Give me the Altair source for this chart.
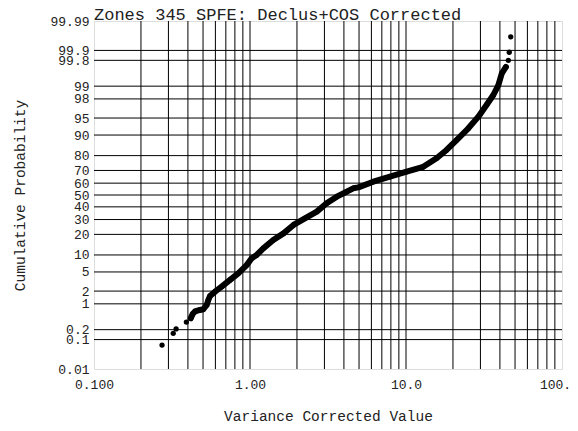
import json
from statistics import NormalDist
import altair as alt
import pandas as pd

# ---- data ----
x_vals = [0.273, 0.322, 0.336, 0.391, 0.417, 0.429, 0.444, 0.478, 0.502, 0.528,
          0.541, 0.554, 0.597, 0.658, 0.745, 0.841, 0.952, 1.025, 1.104, 1.217,
          1.41, 1.64, 1.90, 2.25, 2.68, 3.10, 3.60, 4.17, 4.59, 4.95,
          6.17, 7.89, 10.1, 12.9, 15.7, 18.2, 21.1, 25.1, 29.1, 32.9,
          36.3, 39.1, 41.1, 43.7, 45.3, 45.9, 46.9]
cum_prob = [0.067, 0.156, 0.21, 0.33, 0.42, 0.55, 0.64, 0.70, 0.73, 0.94,
            1.25, 1.54, 1.94, 2.5, 3.47, 4.7, 6.7, 8.8, 10.0, 12.7,
            16.8, 20.6, 26.1, 30.9, 36.1, 43.0, 48.6, 52.8, 55.7, 56.5,
            61.2, 65.2, 69.1, 72.7, 78.4, 83.2, 88.0, 92.3, 95.3, 97.3,
            98.37, 99.06, 99.53, 99.69, 99.80, 99.886, 99.964]

prob_ticks = [0.01, 0.1, 0.2, 1, 2, 5, 10, 20, 30, 40, 50, 60, 70, 80, 90, 95, 98, 99, 99.8, 99.9, 99.99]
prob_labels = ["0.01", "0.1", "0.2", "1", "2", "5", "10", "20", "30", "40", "50",
               "60", "70", "80", "90", "95", "98", "99", "99.8", "99.9", "99.99"]
prob_grid = [0.1, 0.2, 1, 2, 5, 10, 20, 30, 40, 50, 60, 70, 80, 90, 95, 98, 99, 99.8, 99.9]

x_ticks = [0.1, 1, 10, 100]
x_labels = ["0.100", "1.00", "10.0", "100."]
x_grid = [k * 10.0 ** d for d in (-1, 0, 1) for k in range(2, 10)] + [1, 10]

title_text = "Zones 345 SPFE: Declus+COS Corrected"
x_title = "Variance Corrected Value"
y_title = "Cumulative Probability"

# ---- probit transform ----
nd = NormalDist()
def probit(p):
    return round(nd.inv_cdf(p / 100.0), 6)

z_ticks = [probit(p) for p in prob_ticks]
zmin, zmax = z_ticks[0], z_ticks[-1]

pts = pd.DataFrame({"x": x_vals, "p": cum_prob})
pts["z"] = [probit(p) for p in cum_prob]
dense = pts[(pts["p"] >= 0.4) & (pts["p"] <= 99.7)]

FONT = "Liberation Mono"
xscale = alt.Scale(type="log", domain=[0.1, 100], nice=False)
yscale = alt.Scale(domain=[zmin, zmax], nice=False, zero=False)

x_label_expr = f"{json.dumps(x_labels)}[round(log(datum.value)/log(10))+1]"
y_label_expr = f"{json.dumps(prob_labels)}[indexof({json.dumps(z_ticks)}, datum.value)]"

W, H = 468, 348

x_axis = alt.Axis(values=x_ticks, labelExpr=x_label_expr, grid=False, ticks=False,
                  domain=False, labelFlush=False, labelOverlap=False, labelPadding=9,
                  labelFont=FONT, labelFontSize=13, labelColor="#222",
                  labelOffset={"condition": {"test": "datum.value >= 100", "value": -7}, "value": 0},
                  title=x_title, titleFont=FONT, titleFontSize=14.5, titleFontWeight="normal",
                  titleColor="#222", titleX=W / 2, titleY=47, titleBaseline="middle")
y_axis = alt.Axis(values=z_ticks, labelExpr=y_label_expr, grid=False, ticks=False,
                  domain=False, labelFlush=False, labelOverlap=False, labelPadding=5,
                  labelFont=FONT, labelFontSize=13, labelColor="#222",
                  title=y_title, titleFont=FONT, titleFontSize=14.5, titleFontWeight="normal",
                  titleColor="#222", titleX=-74, titleY=H / 2, titleBaseline="middle",
                  titleAngle=270)

vgrid = alt.Chart(pd.DataFrame({"g": x_grid})).mark_rule(color="black", strokeWidth=1).encode(
    x=alt.X("g:Q", scale=xscale, axis=x_axis)
)

hgrid = alt.Chart(pd.DataFrame({"g": [probit(p) for p in prob_grid]})).mark_rule(
    color="black", strokeWidth=1).encode(
    y=alt.Y("g:Q", scale=yscale, axis=y_axis)
)

band = alt.Chart(dense).mark_line(color="black", strokeWidth=6, strokeCap="round",
                                  strokeJoin="round").encode(
    x=alt.X("x:Q", scale=xscale, axis=x_axis), y=alt.Y("z:Q", scale=yscale, axis=y_axis), order="p:Q")

dots = alt.Chart(pts).mark_circle(color="black", size=28, opacity=1).encode(
    x=alt.X("x:Q", scale=xscale, axis=x_axis), y=alt.Y("z:Q", scale=yscale, axis=y_axis))

chart = alt.layer(vgrid, hgrid, band, dots).properties(
    width=W, height=H,
    title=alt.Title(title_text, anchor="start", frame="group", font=FONT, fontSize=17,
                    fontWeight="normal", color="#222", offset=-5, baseline="alphabetic", dy=17),
    autosize=alt.AutoSizeParams(type="none"),
    padding={"left": 86, "top": 13, "right": 8, "bottom": 53},
).configure_view(stroke="black", strokeWidth=2).configure_axis(
    labelOverlap=False
).configure(background="white")

chart.save("out.html", embed_options={"renderer": "svg", "actions": False})
